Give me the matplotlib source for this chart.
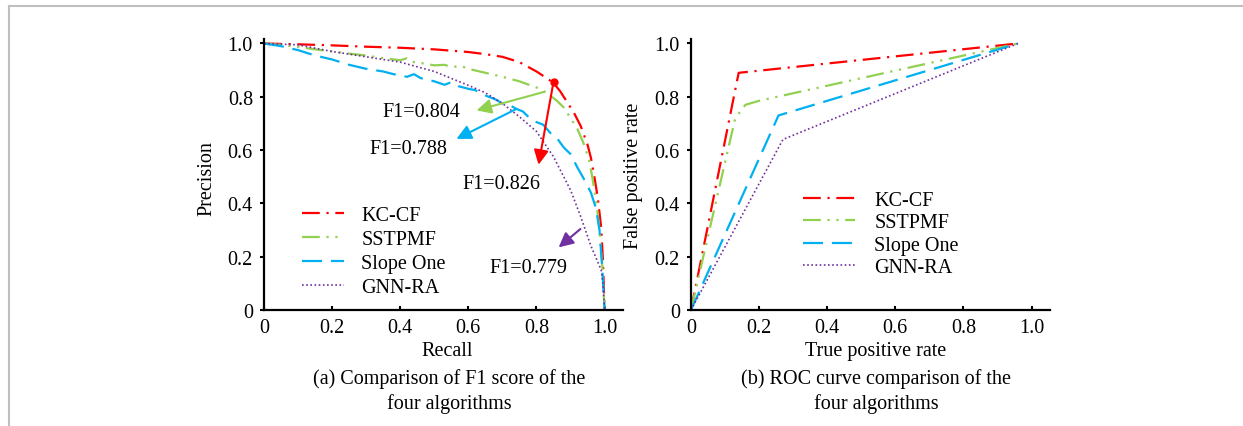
import numpy as np
import matplotlib.pyplot as plt
from matplotlib.lines import Line2D

plt.rcParams['font.family'] = ['Liberation Serif', 'DejaVu Serif']
plt.rcParams['font.size'] = 14.5

# PR curves (left panel)
recall_kc = [0, 0.1, 0.2, 0.3, 0.4, 0.5, 0.6, 0.65, 0.7, 0.75, 0.8, 0.83, 0.85, 0.87,
             0.89, 0.91, 0.93, 0.95, 0.96, 0.97, 0.98, 0.99, 0.995, 1.0]
prec_kc = [1.0, 0.997, 0.993, 0.988, 0.984, 0.978, 0.968, 0.96, 0.95, 0.93, 0.895, 0.87,
           0.852, 0.82, 0.78, 0.74, 0.69, 0.62, 0.57, 0.50, 0.42, 0.31, 0.19, 0.0]

recall_ss = [0, 0.05, 0.10, 0.15, 0.20, 0.25, 0.30, 0.35, 0.40, 0.42, 0.44, 0.47, 0.50,
             0.53, 0.55, 0.58, 0.60, 0.65, 0.70, 0.75, 0.80, 0.83, 0.86, 0.88, 0.90,
             0.92, 0.94, 0.955, 0.965, 0.975, 0.985, 0.993, 1.0]
prec_ss = [1.0, 0.995, 0.987, 0.978, 0.97, 0.962, 0.955, 0.945, 0.937, 0.945, 0.93, 0.925,
           0.918, 0.92, 0.912, 0.915, 0.905, 0.89, 0.875, 0.858, 0.835, 0.815, 0.785,
           0.76, 0.72, 0.68, 0.62, 0.56, 0.49, 0.41, 0.30, 0.17, 0.0]

recall_so = [0, 0.05, 0.10, 0.15, 0.20, 0.25, 0.30, 0.35, 0.38, 0.40, 0.42, 0.44, 0.46,
             0.50, 0.53, 0.55, 0.57, 0.60, 0.62, 0.64, 0.66, 0.68, 0.70, 0.72, 0.74,
             0.76, 0.78, 0.80, 0.82, 0.84, 0.86, 0.88, 0.90, 0.92, 0.94, 0.96, 0.975,
             0.985, 0.993, 1.0]
prec_so = [1.0, 0.99, 0.975, 0.955, 0.94, 0.92, 0.905, 0.895, 0.885, 0.88, 0.875, 0.885,
           0.87, 0.858, 0.845, 0.855, 0.84, 0.83, 0.825, 0.81, 0.80, 0.79, 0.775, 0.77,
           0.755, 0.745, 0.72, 0.705, 0.695, 0.665, 0.645, 0.61, 0.585, 0.535, 0.49,
           0.44, 0.38, 0.30, 0.16, 0.0]

recall_gnn = [0, 0.1, 0.2, 0.3, 0.4, 0.5, 0.6, 0.65, 0.7, 0.75, 0.8, 0.85, 0.9, 0.93,
              0.96, 0.98, 0.99, 0.995, 1.0]
prec_gnn = [1.0, 0.995, 0.97, 0.95, 0.93, 0.895, 0.843, 0.815, 0.775, 0.725, 0.67, 0.575,
            0.45, 0.35, 0.24, 0.18, 0.15, 0.10, 0.0]

# ROC curves (right panel)
tpr_kc = [0, 0.14, 0.96]
fpr_kc = [0, 0.89, 1.0]
tpr_ss = [0, 0.13, 0.16, 0.20, 0.96]
fpr_ss = [0, 0.72, 0.77, 0.785, 1.0]
tpr_so = [0, 0.257, 0.96]
fpr_so = [0, 0.73, 1.0]
tpr_gnn = [0, 0.27, 0.96]
fpr_gnn = [0, 0.64, 1.0]

names = ['KC-CF', 'SSTPMF', 'Slope One', 'GNN-RA']
f1_text = ['F1=0.826', 'F1=0.804', 'F1=0.788', 'F1=0.779']
colors = ['#FF0000', '#92D050', '#00B0F0', '#7030A0']
styles = [dict(lw=1.6, dashes=(8, 3, 1, 3)),
          dict(lw=1.6, dashes=(8, 3, 1, 3, 1, 3)),
          dict(lw=1.6, dashes=(9, 4)),
          dict(lw=1.2, dashes=(1, 1.5))]

fig = plt.figure(figsize=(12.43, 4.27), dpi=100)
ax1 = fig.add_axes([0.2124, 0.2717, 0.2888, 0.6347])
ax2 = fig.add_axes([0.5559, 0.2717, 0.2888, 0.6347])

pr = [(recall_kc, prec_kc), (recall_ss, prec_ss), (recall_so, prec_so), (recall_gnn, prec_gnn)]
roc = [(tpr_kc, fpr_kc), (tpr_ss, fpr_ss), (tpr_so, fpr_so), (tpr_gnn, fpr_gnn)]
for i in range(4):
    ax1.plot(pr[i][0], pr[i][1], color=colors[i], label=names[i], **styles[i])
    ax2.plot(roc[i][0], roc[i][1], color=colors[i], label=names[i], **styles[i])

# F1 annotations
ax1.plot([0.85], [0.856], 'o', color='#FF0000', ms=5)
arrows = [((0.85, 0.856), (0.806, 0.545), (0.698, 0.473)),
          ((0.821, 0.818), (0.624, 0.749), (0.462, 0.743)),
          ((0.742, 0.755), (0.565, 0.642), (0.423, 0.605)),
          ((0.929, 0.304), (0.865, 0.235), (0.777, 0.159))]
for i in range(4):
    start, head, txt = arrows[i]
    ax1.annotate('', xy=head, xytext=start,
                 arrowprops=dict(arrowstyle='-|>', color=colors[i], lw=1.5,
                                 mutation_scale=22, shrinkA=0, shrinkB=0))
    ax1.text(txt[0], txt[1], f1_text[i], ha='center', va='center')

for ax in (ax1, ax2):
    ax.set_xlim(0, 1.054)
    ax.set_ylim(0, 1.017)
    ax.set_xticks([0, 0.2, 0.4, 0.6, 0.8, 1.0])
    ax.set_xticklabels(['0', '0.2', '0.4', '0.6', '0.8', '1.0'])
    ax.set_yticks([0, 0.2, 0.4, 0.6, 0.8, 1.0])
    ax.set_yticklabels(['0', '0.2', '0.4', '0.6', '0.8', '1.0'])
    ax.spines['top'].set_visible(False)
    ax.spines['right'].set_visible(False)
    ax.spines['left'].set_linewidth(1.6)
    ax.spines['bottom'].set_linewidth(1.6)
    ax.tick_params(axis='y', direction='out', length=3, width=1.5, pad=5)
    ax.tick_params(axis='x', direction='in', length=3, width=1.5, pad=6)

ax1.set_xlabel('Recall', va='center')
ax1.xaxis.set_label_coords(0.51, -0.151)
ax1.set_ylabel('Precision', va='center')
ax1.yaxis.set_label_coords(-0.159, 0.49)
ax2.set_xlabel('True positive rate', va='center')
ax2.xaxis.set_label_coords(0.515, -0.151)
ax2.set_ylabel('False positive rate', va='center')
ax2.yaxis.set_label_coords(-0.16, 0.5)

ax1.legend(loc='upper left', bbox_to_anchor=(0.106, 0.384), frameon=False,
           borderpad=0, borderaxespad=0, handlelength=2.1, handletextpad=0.85,
           labelspacing=0.24)
ax2.legend(loc='upper left', bbox_to_anchor=(0.312, 0.44), frameon=False,
           borderpad=0, borderaxespad=0, handlelength=2.6, handletextpad=0.95,
           labelspacing=0.17)

fig.text(0.3612, 0.1124, '(a) Comparison of F1 score of the', ha='center', va='center')
fig.text(0.3612, 0.0539, 'four algorithms', ha='center', va='center')
fig.text(0.7050, 0.1124, '(b) ROC curve comparison of the', ha='center', va='center')
fig.text(0.7050, 0.0539, 'four algorithms', ha='center', va='center')

# page border
fig.add_artist(Line2D([0.0072, 1], [0.984, 0.984], color='#BFBFBF', lw=1.5,
                      transform=fig.transFigure))
fig.add_artist(Line2D([0.0072, 0.0072], [0, 0.984], color='#BFBFBF', lw=1.5,
                      transform=fig.transFigure))

fig.savefig('out.png', dpi=100)
